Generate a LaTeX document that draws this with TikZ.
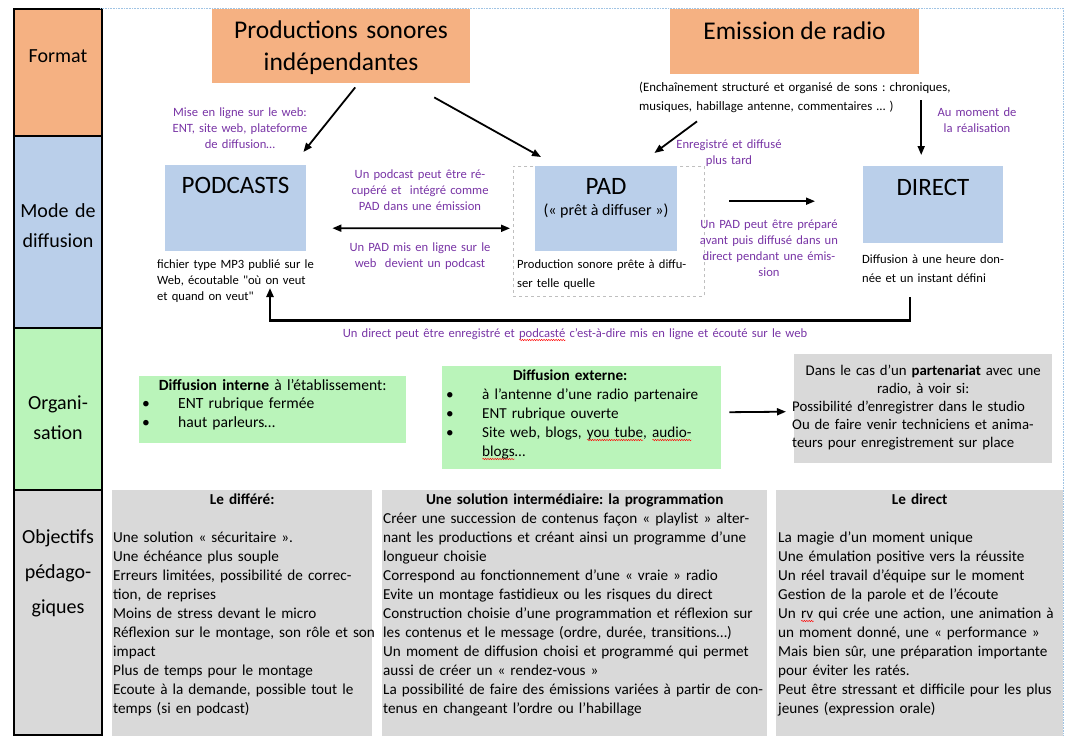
\documentclass[tikz,border=0pt]{standalone}
\usepackage{fontspec}
\setmainfont{Carlito}
\newfontfamily\plainquote{Carlito}
\usetikzlibrary{arrows.meta, decorations.pathmorphing}
\frenchspacing

\definecolor{fmtorange}{RGB}{245,177,130}
\definecolor{modeblue}{RGB}{186,207,234}
\definecolor{orggreen}{RGB}{186,244,186}
\definecolor{objgray}{RGB}{217,217,217}
\definecolor{notepurple}{RGB}{120,52,165}
\definecolor{framedots}{RGB}{160,196,228}

\newsavebox\spellbox
\newcommand\spellerr[1]{\sbox\spellbox{#1}\rlap{\tikz[baseline=0pt]\draw[red, line width=0.45pt, decorate, decoration={snake, amplitude=0.7pt, segment length=2.4pt}] (0pt,-3pt) -- (\the\wd\spellbox,-3pt);}\usebox\spellbox}
\newcommand\bul{\makebox[36pt][l]{\textbullet}}
\newcommand\qt{{\plainquote"}}

\tikzset{
	rowbox/.style={draw=black, line width=2pt},
	rowlabel/.style={font=\fontsize{20}{30}\selectfont, align=center, text width=86pt, inner sep=0pt, anchor=base},
	fmtbox/.style={fill=fmtorange, inner sep=0pt, anchor=north west},
	modebox/.style={fill=modeblue, inner sep=0pt, anchor=north west},
	orgbox/.style={fill=orggreen, inner sep=0pt, anchor=north west},
	objbox/.style={fill=objgray, inner sep=0pt, anchor=north west},
	boxtitle/.style={font=\fontsize{25.5}{32}\selectfont, inner sep=0pt, anchor=base, align=center},
	note/.style={font=\fontsize{12.6}{16}\selectfont, inner sep=0pt, anchor=base west, align=left},
	purplenote/.style={font=\fontsize{12.6}{16}\selectfont, text=notepurple, inner sep=0pt, anchor=base, align=center},
	body/.style={font=\fontsize{15.2}{19}\selectfont, inner sep=0pt, anchor=base west, align=left},
	listtext/.style={inner sep=0pt, anchor=base west, align=left},
	flowarrow/.style={->, line width=1.8pt},
}

\begin{document}
\begin{tikzpicture}[x=1pt, y=-1pt, >={Triangle[length=9pt, width=7pt]}]
	\useasboundingbox (0,0) rectangle (1069,736);

	% row headers
	\foreach \t/\b/\c in {9/136/fmtorange, 136/328/modeblue, 328/490/orggreen, 490/735/objgray}
		\draw [rowbox, fill=\c] (14,\t) rectangle (102,\b);

	\foreach \n/\y/\l in {format/62/Format, mode/217/{Mode de\\diffusion}, orga/409/{Organi-\\sation}}
		\node [rowlabel] (\n-lbl) at (58,\y) {\l};
	\node [rowlabel, font=\fontsize{20}{35}\selectfont] (obj-lbl) at (58,543) {Objectifs\\pédago-\\giques};

	\draw [framedots, densely dotted, line width=0.6pt] (100,8) -- (1063,8) -- (1063,736);

	% format
	\node [fmtbox, minimum width=258pt, minimum height=74pt] (prod) at (212,9) {};
	\node [boxtitle, text width=258pt] (prod-lbl) at (341,38) {Productions sonores\\indépendantes};
	\node [fmtbox, minimum width=249pt, minimum height=65pt] (emission) at (670,9) {};
	\node [boxtitle] (emission-lbl) at (794.5,39) {Emission de radio};
	\node [note, text width=340pt, font=\fontsize{12.8}{19}\selectfont] (emission-note) at (639,91)
		{(Enchaînement structuré et organisé de sons : chroniques,\\musiques, habillage antenne, commentaires … )};

	% mode de diffusion
	\node [modebox, minimum width=141pt, minimum height=86pt] (podcasts) at (165,165) {};
	\node [boxtitle, font=\fontsize{25}{30}\selectfont] (podcasts-lbl) at (235.5,193) {PODCASTS};
	\node [note, text width=170pt] (podcasts-note) at (157,268) {fichier type MP3 publié sur le\\Web, écoutable \qt où on veut\\et quand on veut\qt};

	\node [draw=gray!50, dashed, line width=0.6pt, minimum width=191pt, minimum height=130pt, inner sep=0pt, anchor=north west] (pad-frame) at (513,166) {};
	\node [modebox, minimum width=142pt, minimum height=85pt] (pad) at (535,166) {};
	\node [boxtitle, font=\fontsize{25}{30}\selectfont] (pad-lbl) at (606,194) {PAD};
	\node [boxtitle, font=\fontsize{16}{19}\selectfont] (pad-sub) at (606,215) {(« prêt à diffuser »)};
	\node [note, text width=190pt, font=\fontsize{12.6}{19}\selectfont] (pad-note) at (517,268) {Production sonore prête à diffu-\\ser telle quelle};

	\node [modebox, minimum width=140pt, minimum height=77pt] (direct) at (863,166) {};
	\node [boxtitle, font=\fontsize{25}{30}\selectfont] (direct-lbl) at (933,195) {DIRECT};
	\node [note, text width=160pt, font=\fontsize{12.6}{19}\selectfont] (direct-note) at (862,263) {Diffusion à une heure don-\\née et un instant défini};

	\node [purplenote, text width=160pt] (online-web) at (240,116) {Mise en ligne sur le web:\\ENT, site web, plateforme\\de diffusion…};
	\node [purplenote, text width=160pt] (recup-note) at (420,178) {Un podcast peut être ré-\\cupéré et~ intégré comme\\PAD dans une émission};
	\node [purplenote, text width=160pt] (online-pad) at (420,251) {Un PAD mis en ligne sur le\\web~ devient un podcast};
	\node [purplenote, text width=130pt] (later-note) at (729,148) {Enregistré et diffusé\\plus tard};
	\node [purplenote, text width=120pt] (moment-note) at (977,116) {Au moment de\\la réalisation};
	\node [purplenote, text width=160pt] (prepare-note) at (769,228) {Un PAD peut être préparé\\avant puis diffusé dans un\\direct pendant une émis-\\sion};
	\node [purplenote, text width=520pt] (loop-note) at (575,337) {Un direct peut être enregistré et \spellerr{podcasté} c'est-à-dire mis en ligne et écouté sur le web};

	\draw [flowarrow] ([xshift=14pt, yshift=-4pt]prod.south) -- ([xshift=-3pt, yshift=13pt]podcasts.north east);
	\draw [flowarrow] ([xshift=93pt, yshift=-14pt]prod.south) -- ([xshift=6pt, yshift=9pt]pad.north west);
	\draw [flowarrow, <->] ([xshift=26pt, yshift=-20pt]podcasts.east) -- ([xshift=-3pt, yshift=3pt]pad-frame.west);
	\draw [flowarrow] ([xshift=27pt, yshift=-47pt]emission.south west) -- ([xshift=-23pt, yshift=13pt]pad.north east);
	\draw [flowarrow] ([xshift=126.5pt, yshift=-26pt]emission.south) -- ([xshift=-12pt, yshift=11pt]direct.north);
	\draw [flowarrow] ([xshift=52pt, yshift=7.5pt]pad.east) -- ([xshift=-48pt, yshift=3.5pt]direct.west);

	\coordinate (loop-end) at (270,288);
	\draw [flowarrow, line width=2.5pt] ([xshift=-23pt, yshift=-54pt]direct.south) -- ++(0,23) -| (loop-end);

	% organisation
	\node [orgbox, minimum width=267pt, minimum height=67pt] (interne) at (139,376) {};
	\node [listtext, text width=300pt, font=\fontsize{15.6}{18.5}\selectfont] (interne-txt) at (142,390)
		{\makebox[261pt]{\textbf{Diffusion interne} à l'établissement:}\\\bul ENT rubrique fermée\\\bul haut parleurs…};

	\node [orgbox, minimum width=279pt, minimum height=103pt] (externe) at (442,366) {};
	\node [listtext, text width=320pt, font=\fontsize{15.2}{19}\selectfont] (externe-txt) at (446,380)
		{\makebox[248pt]{\textbf{Diffusion externe:}}\\\bul à l'antenne d'une radio partenaire\\\bul ENT rubrique ouverte\\
		\bul Site web, blogs, \spellerr{you tube}, \spellerr{audio-}\\\hspace*{36pt}\spellerr{blogs}…};

	\node [objbox, minimum width=258pt, minimum height=109pt] (partenariat) at (794,354) {};
	\node [listtext, text width=300pt, font=\fontsize{14.8}{18}\selectfont] (partenariat-txt) at (792,375)
		{\makebox[262pt]{Dans le cas d'un \textbf{partenariat} avec une}\\\makebox[262pt]{radio, à voir si:}\\
		Possibilité d'enregistrer dans le studio\\Ou de faire venir techniciens et anima-\\teurs pour enregistrement sur place};

	\draw [flowarrow] ([xshift=8pt, yshift=5.5pt]externe.east) -- ([xshift=-8pt, yshift=-3pt]partenariat.west);

	% objectifs
	\foreach \n/\x/\w in {differe/112/260, programme/382/385, enDirect/776/287}
		\node [objbox, minimum width=\w pt, minimum height=250pt] (\n) at (\x,490) {};

	\node [body, text width=300pt] (differe-txt) at (113,504)
		{\makebox[258pt]{\textbf{Le différé:}}\\[19pt]
		Une solution « sécuritaire ».\\
		Une échéance plus souple\\
		Erreurs limitées, possibilité de correc-\\
		tion, de reprises\\
		Moins de stress devant le micro\\
		Réflexion sur le montage, son rôle et son\\
		impact\\
		Plus de temps pour le montage\\
		Ecoute à la demande, possible tout le\\
		temps (si en podcast)};

	\node [body, text width=420pt] (programme-txt) at (383,504)
		{\makebox[383pt]{\textbf{Une solution intermédiaire: la programmation}}\\
		Créer une succession de contenus façon « playlist » alter-\\
		nant les productions et créant ainsi un programme d'une\\
		longueur choisie\\
		Correspond au fonctionnement d'une « vraie » radio\\
		Evite un montage fastidieux ou les risques du direct\\
		Construction choisie d'une programmation et réflexion sur\\
		les contenus et le message (ordre, durée, transitions…)\\
		Un moment de diffusion choisi et programmé qui permet\\
		aussi de créer un « rendez-vous »\\
		La possibilité de faire des émissions variées à partir de con-\\
		tenus en changeant l'ordre ou l'habillage};

	\node [body, text width=320pt] (enDirect-txt) at (778,504)
		{\makebox[283pt]{\textbf{Le direct}}\\[19pt]
		La magie d'un moment unique\\
		Une émulation positive vers la réussite\\
		Un réel travail d'équipe sur le moment\\
		Gestion de la parole et de l'écoute\\
		Un \spellerr{rv} qui crée une action, une animation à\\
		un moment donné, une « performance »\\
		Mais bien sûr, une préparation importante\\
		pour éviter les ratés.\\
		Peut être stressant et difficile pour les plus\\
		jeunes (expression orale)};
\end{tikzpicture}
\end{document}
